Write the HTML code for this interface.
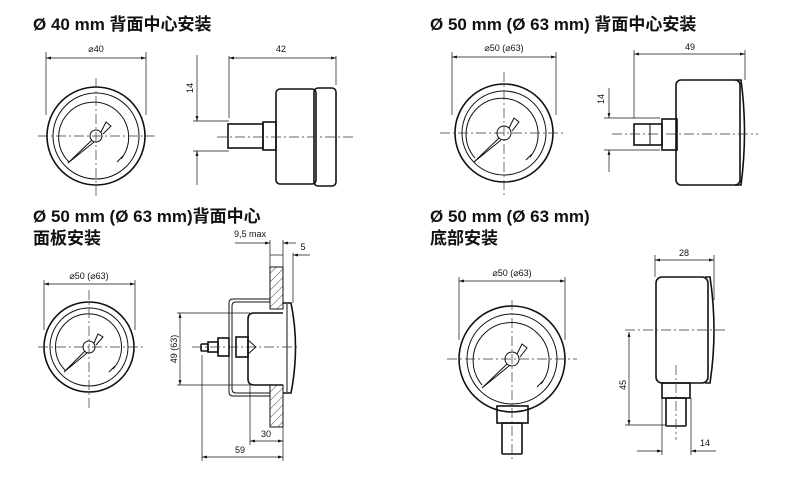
<!DOCTYPE html>
<html><head><meta charset="utf-8"><style>
html,body{margin:0;padding:0;background:#fff}
svg{display:block}
.t{font-family:"Liberation Sans","Noto Sans CJK SC",sans-serif;font-weight:bold;font-size:17px;fill:#111}
.s{font-family:"Liberation Sans",sans-serif;font-size:9px;fill:#111}
.o{fill:none;stroke:#111;stroke-width:1.6}
.th{fill:none;stroke:#111;stroke-width:1}
.d{fill:none;stroke:#111;stroke-width:0.7}
.c{fill:none;stroke:#333;stroke-width:0.7;stroke-dasharray:10 3 2 3}
</style></head><body>
<svg width="790" height="483" viewBox="0 0 790 483" xmlns="http://www.w3.org/2000/svg">
<defs>
<marker id="a" viewBox="0 0 10 10" refX="10" refY="5" markerWidth="7" markerHeight="7" orient="auto-start-reverse"><path d="M0,2 L10,5 L0,8z" fill="#111"/></marker>
<pattern id="h" width="6" height="6" patternUnits="userSpaceOnUse" patternTransform="rotate(45)"><line x1="0" y1="0" x2="0" y2="6" stroke="#111" stroke-width="0.8"/></pattern>
</defs>

<!-- Panel 1 -->
<text class="t" x="33" y="30">Ø 40 mm 背面中心安装</text>
<line class="d" x1="46" y1="52" x2="46" y2="115"/><line class="d" x1="146" y1="52" x2="146" y2="115"/>
<line class="d" x1="46" y1="58" x2="146" y2="58" marker-start="url(#a)" marker-end="url(#a)"/>
<text class="s" x="96" y="52" text-anchor="middle">⌀40</text>
<circle class="o" cx="96" cy="136" r="49"/><circle class="th" cx="96" cy="136" r="43"/>
<path class="th" d="M69,162 A35,35 0 1 1 121,159"/>
<line class="th" x1="117" y1="162" x2="123" y2="156"/>
<line class="c" x1="38" y1="136" x2="155" y2="136"/><line class="c" x1="96" y1="78" x2="96" y2="198"/>
<circle class="th" cx="96" cy="136" r="6" fill="#fff"/>
<path class="th" d="M92,140 L68,163 L94,142 M101,132 L106,122 L111,126 L103,134"/>
<!-- side 1 -->
<line class="d" x1="229" y1="56" x2="229" y2="118"/><line class="d" x1="336" y1="56" x2="336" y2="85"/>
<line class="d" x1="229" y1="58" x2="336" y2="58" marker-start="url(#a)" marker-end="url(#a)"/>
<text class="s" x="281" y="52" text-anchor="middle" font-size="10">42</text>
<line class="d" x1="197" y1="55" x2="197" y2="121" marker-end="url(#a)"/>
<line class="d" x1="197" y1="185" x2="197" y2="151" marker-end="url(#a)"/>
<line class="d" x1="193" y1="121" x2="229" y2="121"/><line class="d" x1="193" y1="151" x2="229" y2="151"/>
<text class="s" x="0" y="0" transform="translate(193,88) rotate(-90)" text-anchor="middle" font-size="10">14</text>
<rect class="o" x="276" y="89" width="40" height="95" rx="4"/>
<rect class="o" x="314" y="88" width="22" height="98" rx="4"/>
<rect class="o" x="263" y="122" width="13" height="28"/>
<rect class="o" x="228" y="124" width="35" height="24"/>
<line class="c" x1="217" y1="137" x2="355" y2="137"/>

<!-- Panel 2 -->
<text class="t" x="430" y="30">Ø 50 mm (Ø 63 mm) 背面中心安装</text>
<line class="d" x1="452" y1="52" x2="452" y2="115"/><line class="d" x1="556" y1="52" x2="556" y2="115"/>
<line class="d" x1="452" y1="57" x2="556" y2="57" marker-start="url(#a)" marker-end="url(#a)"/>
<text class="s" x="504" y="51" text-anchor="middle">⌀50 (⌀63)</text>
<circle class="o" cx="504" cy="133" r="49"/><circle class="th" cx="504" cy="133" r="42"/>
<path class="th" d="M475,158 A36,36 0 1 1 530,157"/>
<line class="th" x1="526" y1="160" x2="532" y2="154"/>
<line class="c" x1="440" y1="133" x2="566" y2="133"/><line class="c" x1="504" y1="72" x2="504" y2="198"/>
<circle class="th" cx="504" cy="133" r="7" fill="#fff"/>
<path class="th" d="M499,138 L474,162 L501,140 M509,128 L514,118 L519,122 L512,131"/>
<!-- side 2 -->
<line class="d" x1="634" y1="50" x2="634" y2="118"/><line class="d" x1="745" y1="50" x2="745" y2="80"/>
<line class="d" x1="634" y1="54" x2="745" y2="54" marker-start="url(#a)" marker-end="url(#a)"/>
<text class="s" x="690" y="50" text-anchor="middle" font-size="10">49</text>
<line class="d" x1="609" y1="88" x2="609" y2="118" marker-end="url(#a)"/>
<line class="d" x1="609" y1="172" x2="609" y2="150" marker-end="url(#a)"/>
<line class="d" x1="604" y1="118" x2="660" y2="118"/><line class="d" x1="604" y1="150" x2="660" y2="150"/>
<text class="s" x="0" y="0" transform="translate(604,99) rotate(-90)" text-anchor="middle" font-size="10">14</text>
<rect class="o" x="676" y="80" width="64" height="105" rx="5"/>
<path class="o" d="M735,80 L741,80 Q748,132 741,185 L735,185"/>
<rect class="o" x="662" y="119" width="15" height="31"/>
<rect class="o" x="634" y="124" width="28" height="21"/>
<line class="th" x1="650" y1="124" x2="650" y2="145"/>
<line class="c" x1="612" y1="134" x2="758" y2="134"/>

<!-- Panel 3 -->
<text class="t" x="33" y="222">Ø 50 mm (Ø 63 mm)背面中心</text>
<text class="t" x="33" y="244">面板安装</text>
<line class="d" x1="44" y1="280" x2="44" y2="330"/><line class="d" x1="135" y1="280" x2="135" y2="330"/>
<line class="d" x1="44" y1="284" x2="135" y2="284" marker-start="url(#a)" marker-end="url(#a)"/>
<text class="s" x="89" y="279" text-anchor="middle">⌀50 (⌀63)</text>
<circle class="o" cx="89" cy="347" r="45"/><circle class="th" cx="89" cy="347" r="39"/>
<path class="th" d="M66,371 A33,33 0 1 1 113,369"/>
<line class="th" x1="109" y1="372" x2="115" y2="366"/>
<line class="c" x1="38" y1="347" x2="145" y2="347"/><line class="c" x1="89" y1="290" x2="89" y2="410"/>
<circle class="th" cx="89" cy="347" r="6" fill="#fff"/>
<path class="th" d="M85,351 L64,372 L87,353 M94,343 L98,334 L103,337 L96,345"/>
<!-- side 3 -->
<rect x="270" y="267" width="13" height="42" fill="url(#h)" stroke="#111" stroke-width="1"/>
<rect x="270" y="385" width="13" height="42" fill="url(#h)" stroke="#111" stroke-width="1"/>
<path class="o" d="M283,303 L291,303 Q300,347 291,393 L283,393"/>
<line class="th" x1="287" y1="304" x2="287" y2="392"/>
<path class="o" d="M283,313 L254,313 Q248,313 248,319 L248,379 Q248,385 254,385 L283,385"/>
<path class="th" d="M270,299 L233,299 Q229,299 229,303 L229,392 Q229,396 233,396 L270,396"/>
<path class="th" d="M270,302 L236,302 Q232,302 232,306 L232,389 Q232,393 236,393 L270,393"/>
<rect class="o" x="236" y="337" width="12" height="20"/>
<path class="th" d="M248,340 L256,347 L248,354"/>
<rect class="o" x="218" y="338" width="11" height="18"/>
<rect class="o" x="208" y="342" width="10" height="10"/>
<rect class="o" x="201" y="344" width="7" height="7" rx="1"/>
<line class="c" x1="192" y1="347" x2="300" y2="347"/>
<line class="d" x1="180" y1="313" x2="180" y2="385" marker-start="url(#a)" marker-end="url(#a)"/>
<line class="d" x1="177" y1="313" x2="250" y2="313"/><line class="d" x1="177" y1="385" x2="250" y2="385"/>
<text class="s" x="0" y="0" transform="translate(177,349) rotate(-90)" text-anchor="middle">49 (63)</text>
<line class="d" x1="250" y1="385" x2="250" y2="445"/><line class="d" x1="283" y1="427" x2="283" y2="461"/>
<line class="d" x1="202" y1="355" x2="202" y2="461"/>
<line class="d" x1="250" y1="441" x2="283" y2="441" marker-start="url(#a)" marker-end="url(#a)"/>
<text class="s" x="266" y="437" text-anchor="middle">30</text>
<line class="d" x1="202" y1="457" x2="283" y2="457" marker-start="url(#a)" marker-end="url(#a)"/>
<text class="s" x="240" y="453" text-anchor="middle">59</text>
<text class="s" x="250" y="237" text-anchor="middle">9,5 max</text>
<line class="d" x1="270" y1="240" x2="270" y2="267"/><line class="d" x1="283" y1="240" x2="283" y2="267"/>
<line class="d" x1="293" y1="253" x2="293" y2="303"/>
<line class="d" x1="235" y1="243" x2="270" y2="243" marker-end="url(#a)"/>
<line class="d" x1="296" y1="243" x2="283" y2="243" marker-end="url(#a)"/>
<line class="d" x1="270" y1="255" x2="283" y2="255"/>
<line class="d" x1="310" y1="255" x2="293" y2="255" marker-end="url(#a)"/>
<text class="s" x="303" y="250" text-anchor="middle">5</text>

<!-- Panel 4 -->
<text class="t" x="430" y="222">Ø 50 mm (Ø 63 mm)</text>
<text class="t" x="430" y="244">底部安装</text>
<line class="d" x1="459" y1="277" x2="459" y2="340"/><line class="d" x1="565" y1="277" x2="565" y2="340"/>
<line class="d" x1="459" y1="281" x2="565" y2="281" marker-start="url(#a)" marker-end="url(#a)"/>
<text class="s" x="512" y="276" text-anchor="middle">⌀50 (⌀63)</text>
<rect class="o" x="497" y="406" width="31" height="17"/>
<rect class="o" x="502" y="423" width="20" height="31" rx="1"/>
<circle class="o" cx="512" cy="359" r="53" fill="#fff"/><circle class="th" cx="512" cy="359" r="45"/>
<path class="th" d="M482,385 A38,38 0 1 1 541,384"/>
<line class="th" x1="537" y1="387" x2="543" y2="381"/>
<line class="c" x1="447" y1="359" x2="577" y2="359"/><line class="c" x1="512" y1="300" x2="512" y2="462"/>
<circle class="th" cx="512" cy="359" r="7" fill="#fff"/>
<path class="th" d="M507,364 L482,388 L509,366 M517,354 L522,344 L527,348 L520,357"/>
<!-- side 4 -->
<rect class="o" x="656" y="277" width="52" height="106" rx="6"/>
<path class="o" d="M705,277 L710,277 Q718,330 710,383 L705,383"/>
<rect class="o" x="662" y="383" width="28" height="15"/>
<rect class="o" x="666" y="398" width="20" height="28" rx="1"/>
<line class="c" x1="676" y1="365" x2="676" y2="440"/>
<line class="c" x1="625" y1="330" x2="725" y2="330"/>
<line class="d" x1="655" y1="255" x2="655" y2="277"/><line class="d" x1="714" y1="255" x2="714" y2="300"/>
<line class="d" x1="655" y1="260" x2="714" y2="260" marker-start="url(#a)" marker-end="url(#a)"/>
<text class="s" x="684" y="256" text-anchor="middle" font-size="10">28</text>
<line class="d" x1="629" y1="332" x2="629" y2="425" marker-start="url(#a)" marker-end="url(#a)"/>
<line class="d" x1="625" y1="425" x2="666" y2="425"/>
<text class="s" x="0" y="0" transform="translate(626,385) rotate(-90)" text-anchor="middle" font-size="10">45</text>
<line class="d" x1="662" y1="398" x2="662" y2="455"/><line class="d" x1="691" y1="398" x2="691" y2="455"/>
<line class="d" x1="637" y1="451" x2="662" y2="451" marker-end="url(#a)"/>
<line class="d" x1="716" y1="451" x2="691" y2="451" marker-end="url(#a)"/>
<text class="s" x="705" y="446" text-anchor="middle" font-size="10">14</text>
</svg>
</body></html>
